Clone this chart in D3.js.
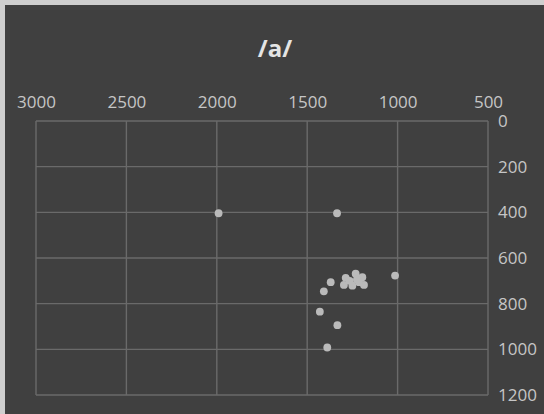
<!DOCTYPE html>
<html>
<head>
<meta charset="utf-8">
<script src="https://cdn.jsdelivr.net/npm/d3@7"></script>
<style>
  html, body { margin: 0; padding: 0; background: #404040; }
  svg { display: block; }
</style>
</head>
<body>
<svg id="chart" width="544" height="414"></svg>
<script>
// Formant plot for the vowel /a/: F2 (Hz) on the reversed top axis, F1 (Hz) on the right axis.
const title = "/a/";
const f2 = [1990, 1335, 1014, 1232, 1287, 1195, 1297, 1250, 1186, 1213, 1370, 1408, 1430, 1333, 1389, 1265, 1225];
const f1 = [404, 404, 677, 669, 687, 684, 718, 721, 718, 706, 706, 746, 835, 894, 992, 700, 695];
const xTicks = [3000, 2500, 2000, 1500, 1000, 500];
const yTicks = [0, 200, 400, 600, 800, 1000, 1200];

const W = 544, H = 414;
const svg = d3.select("#chart");

// outer frame: light edge on top and left
svg.append("rect").attr("x", 0).attr("y", 0).attr("width", W).attr("height", H).attr("fill", "#cfcfcf");
svg.append("rect").attr("x", 5).attr("y", 5).attr("width", W - 5).attr("height", H - 5).attr("fill", "#404040");

const x = d3.scaleLinear().domain([3000, 500]).range([36, 488]);
const y = d3.scaleLinear().domain([0, 1200]).range([121, 395]);

const gridColor = "#6a6a6a";
const textColor = "#c6c6c6";
const font = "'Open Sans', 'Noto Sans', sans-serif";

// gridlines
svg.append("g").selectAll("line").data(xTicks).join("line")
  .attr("x1", d => x(d)).attr("x2", d => x(d))
  .attr("y1", y(0)).attr("y2", y(1200))
  .attr("stroke", gridColor).attr("stroke-width", 1.4);
svg.append("g").selectAll("line").data(yTicks).join("line")
  .attr("x1", x(3000)).attr("x2", x(500))
  .attr("y1", d => y(d)).attr("y2", d => y(d))
  .attr("stroke", gridColor).attr("stroke-width", 1.4);

// top axis (F2)
const xAxis = svg.append("g")
  .attr("transform", `translate(0,${y(0)})`)
  .call(d3.axisTop(x).tickValues(xTicks).tickSize(0).tickPadding(13).tickFormat(d3.format("d")));
xAxis.select(".domain").remove();
xAxis.selectAll("text").attr("fill", textColor).style("font-family", font).style("font-size", "17px");

// right axis (F1)
const yAxis = svg.append("g")
  .attr("transform", `translate(${x(500)},0)`)
  .call(d3.axisRight(y).tickValues(yTicks).tickSize(0).tickPadding(10).tickFormat(d3.format("d")));
yAxis.select(".domain").remove();
yAxis.selectAll("text").attr("fill", textColor).style("font-family", font).style("font-size", "17px");

// data points
svg.append("g").selectAll("circle").data(f2.map((v, i) => [v, f1[i]])).join("circle")
  .attr("cx", d => x(d[0])).attr("cy", d => y(d[1]))
  .attr("r", 3.9)
  .attr("fill", "#bababa");

// title
svg.append("text")
  .attr("x", 275).attr("y", 57)
  .attr("text-anchor", "middle")
  .attr("fill", "#e4e4e4")
  .style("font-family", font).style("font-weight", "bold").style("font-size", "24px")
  .text(title);
</script>
</body>
</html>
